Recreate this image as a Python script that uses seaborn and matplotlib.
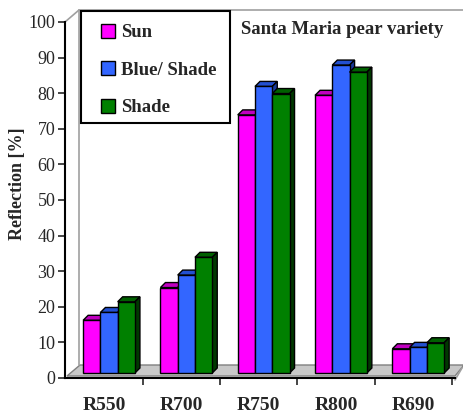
# Reflexión por banda - variedad de pera Santa Maria (barras estilo 3D)
import pandas as pd
import matplotlib
matplotlib.use("Agg")
import matplotlib.pyplot as plt
import seaborn as sns
from matplotlib.patches import Polygon, Rectangle
from matplotlib.lines import Line2D
from matplotlib.transforms import ScaledTranslation, IdentityTransform

# -----------------------------------------------------------------------------
# DATOS
# -----------------------------------------------------------------------------
bandas = ["R550", "R700", "R750", "R800", "R690"]
sun = [14.8, 24.0, 72.5, 78.0, 6.8]
blue_shade = [17.0, 27.5, 80.5, 86.5, 7.2]
shade = [20.0, 32.5, 78.5, 84.5, 8.5]
condiciones = ["Sun", "Blue/ Shade", "Shade"]
colores = ["#FF00FF", "#3366FF", "#008000"]
colores_top = ["#C000C0", "#2350D0", "#006000"]
colores_lado = ["#800080", "#1A3A99", "#003800"]
y_ticks = list(range(0, 101, 10))

df = pd.DataFrame({"banda": bandas, "Sun": sun, "Blue/ Shade": blue_shade, "Shade": shade})
df = df.melt(id_vars="banda", var_name="condicion", value_name="reflexion")

# -----------------------------------------------------------------------------
# FIGURA
# -----------------------------------------------------------------------------
sns.set_style("white")
plt.rcParams["font.family"] = ["Liberation Serif", "DejaVu Serif"]

W, H = 464, 416
fig = plt.figure(figsize=(W / 100, H / 100), dpi=100)
ax = fig.add_axes([65 / W, (H - 378) / H, 390 / W, 356 / H])

sns.barplot(data=df, x="banda", y="reflexion", hue="condicion", hue_order=condiciones,
            palette=colores, saturation=1, width=0.67, gap=0, errorbar=None,
            edgecolor="black", linewidth=1, ax=ax)

ax.set_xlim(-0.505, 4.54)
ax.set_ylim(0, 100)
ax.set_yticks(y_ticks)
ax.set_xlabel("")
ax.set_ylabel("Reflection [%]", fontsize=13, fontweight="bold")
ax.yaxis.set_label_coords(-0.100, 0.545)

# ticks
ax.tick_params(axis="y", direction="out", length=5, width=1.2, pad=2, labelsize=13, left=True)
ax.tick_params(axis="x", which="major", length=0, pad=14, labelsize=14)
for t in ax.get_xticklabels():
    t.set_fontweight("bold")
ax.set_xticks([0.5, 1.5, 2.5, 3.5, 4.5], minor=True)
ax.tick_params(axis="x", which="minor", direction="out", length=5, width=1.2, bottom=True)

for lado in ["top", "right"]:
    ax.spines[lado].set_visible(False)
for lado in ["left", "bottom"]:
    ax.spines[lado].set_color("black")
    ax.spines[lado].set_linewidth(1.5)


def px(x, y):
    # coordenadas en pixeles de la imagen (origen arriba a la izquierda)
    return (x, H - y)


# piso y paredes del grafico 3D
piso = Polygon([px(67, 376), px(455, 376), px(464, 365), px(80, 365)], closed=True,
               facecolor="#C8C8C8", edgecolor="#808080", linewidth=1,
               transform=IdentityTransform(), clip_on=False, zorder=0.5)
ax.add_artist(piso)
for xs, ys in [([79, 79], [365, 10]), ([79, 464], [10, 10]), ([65, 79], [22, 10]),
               ([455, 462], [380, 368])]:
    linea = Line2D(xs, [H - v for v in ys], color="#A0A0A0", linewidth=1.2,
                   transform=IdentityTransform(), clip_on=False, zorder=0.6)
    ax.add_artist(linea)

# barras desplazadas + caras superior y lateral
d = 5
shift = ScaledTranslation(d / 100, d / 100, fig.dpi_scale_trans)
for i, cont in enumerate(ax.containers):
    for bar in cont:
        z = 2 + i * 0.2
        bar.set_transform(ax.transData + shift)
        bar.set_zorder(z + 0.1)
        x0 = bar.get_x()
        x1 = x0 + bar.get_width()
        h = bar.get_height()
        (ax0, ay0), (ax1, ay1) = ax.transData.transform([(x0, 0), (x1, h)])
        ax0, ay0, ax1, ay1 = ax0 + d, ay0 + d, ax1 + d, ay1 + d
        top = Polygon([(ax0, ay1), (ax1, ay1), (ax1 + d, ay1 + d), (ax0 + d, ay1 + d)],
                      closed=True, facecolor=colores_top[i], edgecolor="black", linewidth=1,
                      transform=IdentityTransform(), clip_on=False, zorder=z)
        side = Polygon([(ax1, ay0), (ax1, ay1), (ax1 + d, ay1 + d), (ax1 + d, ay0 + d)],
                       closed=True, facecolor=colores_lado[i], edgecolor="black", linewidth=1,
                       transform=IdentityTransform(), clip_on=False, zorder=z)
        ax.add_artist(top)
        ax.add_artist(side)

# leyenda (marco dibujado aparte)
marco = Rectangle(px(81, 123), 149, 112, facecolor="white", edgecolor="black", linewidth=1.5,
                  transform=IdentityTransform(), clip_on=False, zorder=5)
ax.add_artist(marco)
handles, labels = ax.get_legend_handles_labels()
leg = ax.legend(handles, labels, loc="upper left", bbox_to_anchor=(101 / W, 1 - 24 / H),
                bbox_transform=fig.transFigure, borderaxespad=0, borderpad=0, frameon=False,
                handlelength=0.75, handleheight=0.75, handletextpad=0.3, labelspacing=1.07,
                prop={"family": "Liberation Serif", "weight": "bold", "size": 13.5})
leg.set_zorder(6)

fig.text(241 / W, 1 - 30 / H, "Santa Maria pear variety", ha="left", va="center",
         fontsize=13.5, fontweight="bold")

fig.savefig("out.png", dpi=100)
